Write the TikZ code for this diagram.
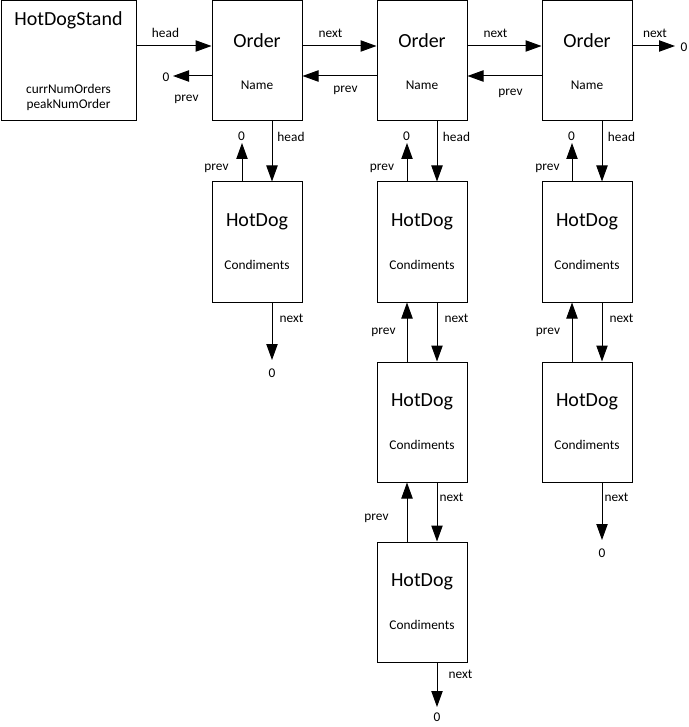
\documentclass[tikz,border=0pt]{standalone}
\usepackage{fontspec}
\setmainfont{Carlito}
\usetikzlibrary{arrows.meta}
\begin{document}
\begin{tikzpicture}[x=0.75pt,y=-0.75pt,
  box/.style={draw,line width=0.75pt,minimum width=67.5pt,minimum height=90pt,inner sep=0pt},
  title/.style={font=\fontsize{15}{18}\selectfont,inner sep=0pt},
  field/.style={font=\fontsize{10}{12}\selectfont,inner sep=0pt},
  lbl/.style={font=\fontsize{10}{12}\selectfont,inner sep=0pt},
  link/.style={line width=0.75pt,-{Triangle[length=12pt,width=8.5pt]}},
  up/.style={yshift=11.25pt},
  down/.style={yshift=-11.25pt},
  lft/.style={xshift=-11.25pt},
  rgt/.style={xshift=11.25pt},
]
\useasboundingbox (0,0) rectangle (688,727);

% ---------- boxes ----------
\node[box,minimum width=101.25pt] (st) at (68.5,61) {};
\node[box] (o1) at (257,61) {};
\node[box] (o2) at (422,61) {};
\node[box] (o3) at (587,61) {};
\node[box] (h11) at (257,242) {};
\node[box] (h21) at (422,242) {};
\node[box] (h22) at (422,422) {};
\node[box] (h23) at (422,602) {};
\node[box] (h31) at (587,242) {};
\node[box] (h32) at (587,422) {};

% ---------- box texts ----------
\node[title] (stT) at (68.5,20) {HotDogStand};
\node[field] (stA) at (68.5,89) {currNumOrders};
\node[field] (stB) at (68.5,105) {peakNumOrder};
\foreach \n/\x in {o1/257,o2/422,o3/587}{
  \node[title] (\n T) at (\x,41) {Order};
  \node[field] (\n N) at (\x,85) {Name};
}
\foreach \n/\x/\y in {h11/257/242,h21/422/242,h22/422/422,h23/422/602,h31/587/242,h32/587/422}{
  \node[title] (\n T) at (\x,\y-20) {HotDog};
  \node[field] (\n C) at (\x,\y+23) {Condiments};
}

% ---------- free ends ----------
\coordinate (z1) at (173,76);
\coordinate (z2) at (675,46);
\coordinate (t1) at (242,143);
\coordinate (t2) at (407,143);
\coordinate (t3) at (572,143);
\coordinate (b1) at (272,360);
\coordinate (b2) at (437,707);
\coordinate (b3) at (602,540);

\node[lbl] (z1L) at (166,77) {0};
\node[lbl] (z2L) at (684,47) {0};
\node[lbl] (t1L) at (241.5,136) {0};
\node[lbl] (t2L) at (406.5,136) {0};
\node[lbl] (t3L) at (571.5,136) {0};
\node[lbl] (b1L) at (272,373) {0};
\node[lbl] (b2L) at (437,717) {0};
\node[lbl] (b3L) at (602,553) {0};

% ---------- order list ----------
\draw[link] ([up]st.east) -- ([up]o1.west);
\draw[link] ([up]o1.east) -- ([up]o2.west);
\draw[link] ([up]o2.east) -- ([up]o3.west);
\draw[link] ([up]o3.east) -- (z2);
\draw[link] ([down]o1.west) -- (z1);
\draw[link] ([down]o2.west) -- ([down]o1.east);
\draw[link] ([down]o3.west) -- ([down]o2.east);

\node[lbl] (l1) at (165.5,33) {head};
\node[lbl] (l2) at (330.5,33) {next};
\node[lbl] (l3) at (495.5,33) {next};
\node[lbl] (l4) at (655,33) {next};
\node[lbl] (l5) at (186.5,99) {prev};
\node[lbl] (l6) at (345.5,90) {prev};
\node[lbl] (l7) at (510.5,93) {prev};

% ---------- hot dog lists ----------
\draw[link] ([rgt]o1.south) -- ([rgt]h11.north);
\draw[link] ([rgt]o2.south) -- ([rgt]h21.north);
\draw[link] ([rgt]o3.south) -- ([rgt]h31.north);
\draw[link] ([lft]h11.north) -- (t1);
\draw[link] ([lft]h21.north) -- (t2);
\draw[link] ([lft]h31.north) -- (t3);

\draw[link] ([rgt]h11.south) -- (b1);
\draw[link] ([rgt]h21.south) -- ([rgt]h22.north);
\draw[link] ([lft]h22.north) -- ([lft]h21.south);
\draw[link] ([rgt]h22.south) -- ([rgt]h23.north);
\draw[link] ([lft]h23.north) -- ([lft]h22.south);
\draw[link] ([rgt]h23.south) -- (b2);
\draw[link] ([rgt]h31.south) -- ([rgt]h32.north);
\draw[link] ([lft]h32.north) -- ([lft]h31.south);
\draw[link] ([rgt]h32.south) -- (b3);

\node[lbl] (m1) at (291,137) {head};
\node[lbl] (m2) at (456.5,137) {head};
\node[lbl] (m3) at (621.5,137) {head};
\node[lbl] (m4) at (216.5,168) {prev};
\node[lbl] (m5) at (382,168) {prev};
\node[lbl] (m6) at (547.5,168) {prev};

\node[lbl] (n1) at (291.5,318) {next};
\node[lbl] (n2) at (456.5,318) {next};
\node[lbl] (n3) at (621.5,318) {next};
\node[lbl] (p2) at (383.5,332) {prev};
\node[lbl] (p3) at (548,332) {prev};
\node[lbl] (n4) at (451.5,497) {next};
\node[lbl] (n5) at (616.5,497) {next};
\node[lbl] (p4) at (376.5,518) {prev};
\node[lbl] (n6) at (460.5,674) {next};
\end{tikzpicture}
\end{document}
